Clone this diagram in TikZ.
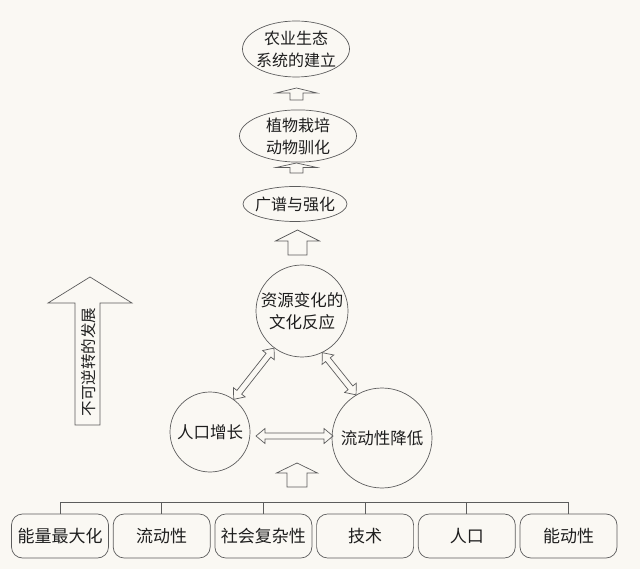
\documentclass[tikz,border=0pt]{standalone}
\usepackage{fontspec}
\setmainfont{Noto Sans CJK SC}
\usetikzlibrary{shapes.geometric,calc}
\definecolor{bg}{HTML}{FAF8F3}
\definecolor{ln}{HTML}{5C5C5C}
\definecolor{tx}{HTML}{1E1E1E}
\begin{document}
\begin{tikzpicture}[x=1pt,y=-1pt,
  every node/.style={text=tx},
  ell/.style={draw=ln, line width=0.7pt, ellipse, inner xsep=-12pt, inner ysep=0pt, align=center, font=\fontsize{16}{22}\selectfont},
  circ/.style={draw=ln, line width=0.7pt, circle, inner sep=-4pt, align=center, font=\fontsize{16.5}{22}\selectfont},
  box/.style={draw=ln, line width=0.7pt, rounded corners=11pt, minimum width=97pt, minimum height=44pt, inner sep=0pt, font=\fontsize{17}{20}\selectfont},
  line/.style={draw=ln, line width=0.7pt},
  blk/.style n args={3}{line, to path={let \p1=(\tikztostart), \p2=(\tikztotarget),
     \n1={atan2(\y2-\y1,\x2-\x1)}, \n2={veclen(\x2-\x1,\y2-\y1)} in
     {[shift={(\p1)}, rotate=\n1] (0,-#1) -- (\n2-#3,-#1) -- (\n2-#3,-#2) -- (\n2,0) -- (\n2-#3,#2) -- (\n2-#3,#1) -- (0,#1) -- cycle}}},
  dbl/.style n args={3}{line, to path={let \p1=(\tikztostart), \p2=(\tikztotarget),
     \n1={atan2(\y2-\y1,\x2-\x1)}, \n2={veclen(\x2-\x1,\y2-\y1)} in
     {[shift={(\p1)}, rotate=\n1] (0,0) -- (#3,-#2) -- (#3,-#1) -- (\n2-#3,-#1) -- (\n2-#3,-#2) -- (\n2,0) -- (\n2-#3,#2) -- (\n2-#3,#1) -- (#3,#1) -- (#3,#2) -- cycle}}}
]
\fill[bg] (0,0) rectangle (640,569);
\useasboundingbox (0,0) rectangle (640,569);

% chain of ellipses
\node[ell, minimum width=107pt, minimum height=56pt] (n1) at (296,49) {农业生态\\系统的建立};
\node[ell, minimum width=117pt, minimum height=52pt] (n2) at (298,136) {植物栽培\\动物驯化};
\node[ell, minimum width=104pt, minimum height=35pt] (n3) at (295,204) {广谱与强化};

% triangle of circles
\node[circ, minimum size=92pt] (zy) at (302,311) {资源变化的\\文化反应};
\node[circ, minimum size=80pt] (rk) at (210,432) {人口增长};
\node[circ, minimum size=100pt] (ld) at (382,438) {流动性降低};

% hollow upward arrows
\coordinate (a1s) at (296.5,100); \coordinate (a1e) at (296.5,88);
\coordinate (a2s) at (296.5,173); \coordinate (a2e) at (296.5,163);
\coordinate (a3s) at (297.5,255); \coordinate (a3e) at (297.5,230);
\coordinate (a4s) at (297,487);   \coordinate (a4e) at (297,463);
\draw[blk={6.5}{20.5}{5}] (a1s) to (a1e);
\draw[blk={6.5}{20.5}{4.5}] (a2s) to (a2e);
\draw[blk={9.5}{22}{11}] (a3s) to (a3e);
\draw[blk={10}{20.5}{10}] (a4s) to (a4e);

% hollow double arrows
\coordinate (h1) at (256,436); \coordinate (h2) at (333,436);
\draw[dbl={3}{7.5}{9}] (rk.54) to (zy.233);
\draw[dbl={3}{7.5}{9}] (zy.296) to (ld.121);
\draw[dbl={3}{7.5}{9}] (h1) to (h2);

% irreversible development arrow
\draw[line] (75,425) -- (75,303) -- (48,303) -- (90,277) -- (132,303) -- (100,303) -- (100,425) -- cycle;
\node[rotate=90, font=\fontsize{15.5}{16}\selectfont] (irr) at (88.5,362) {不可逆转的发展};

% bottom boxes
\node[box] (b1) at (60,536) {能量最大化};
\node[box] (b2) at (161.7,536) {流动性};
\node[box] (b3) at (263.4,536) {社会复杂性};
\node[box] (b4) at (365.1,536) {技术};
\node[box] (b5) at (466.8,536) {人口};
\node[box] (b6) at (568.5,536) {能动性};
\draw[line] (b1.north) -- ($(b1.north)+(0,-11)$) -- ($(b6.north)+(0,-11)$) -- (b6.north);
\foreach \b in {b2,b3,b4,b5} \draw[line] (\b.north) -- ($(\b.north)+(0,-11)$);
\end{tikzpicture}
\end{document}
